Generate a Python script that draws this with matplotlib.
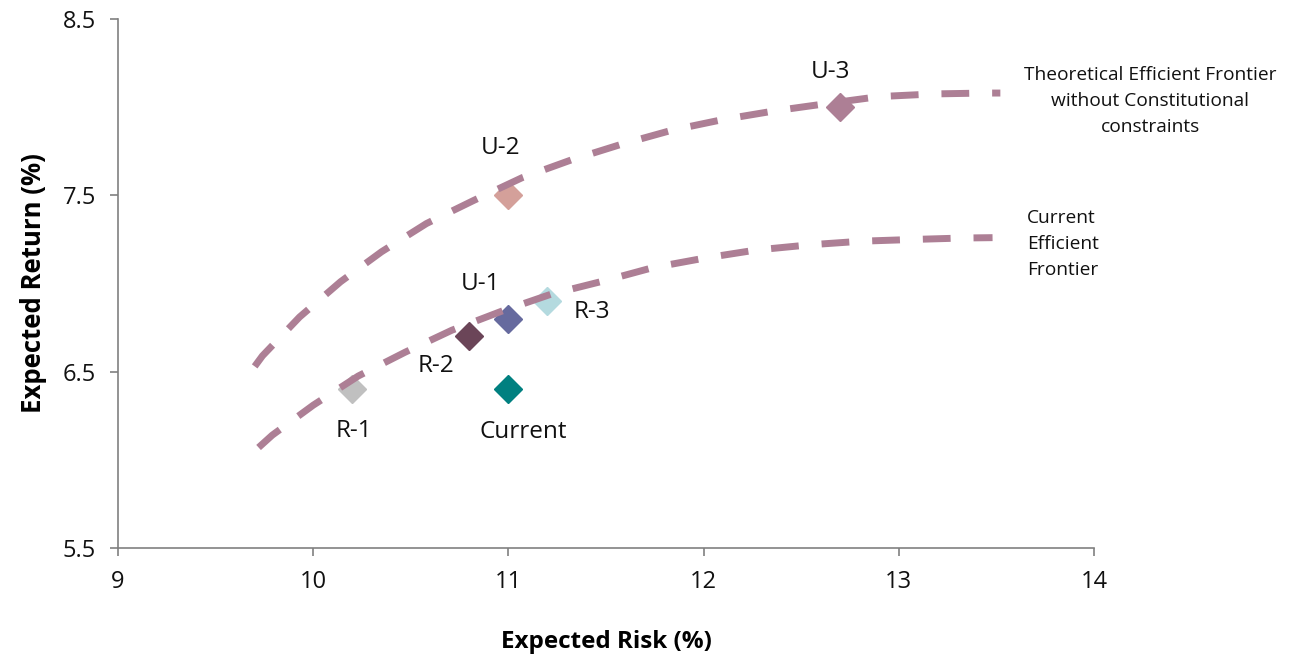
import matplotlib
matplotlib.use("Agg")
import matplotlib.pyplot as plt

plt.rcParams['font.family'] = ['Open Sans', 'DejaVu Sans']

# Portfolio points: (expected risk %, expected return %)
labels = ['U-3', 'U-2', 'U-1', 'R-3', 'R-2', 'R-1', 'Current']
risk = [12.7, 11.0, 11.0, 11.2, 10.8, 10.2, 11.0]
ret = [8.0, 7.5, 6.8, 6.9, 6.7, 6.4, 6.4]
colors = ['#AD7F95', '#D4A09A', '#666A9E', '#B4DADF', '#6B4558', '#C0C0C0', '#008080']
label_offsets = [(-7, 25), (-6, 34), (-20, 25), (32, -8), (-24, -21), (1, -30), (11, -31)]

# Frontier without constitutional constraints
theo_risk = [9.70, 9.74, 9.93, 10.14, 10.35, 10.58, 10.82, 11.07, 11.32, 11.58,
             11.84, 12.10, 12.37, 12.63, 12.90, 13.18, 13.44, 13.52]
theo_ret = [6.53, 6.59, 6.81, 7.01, 7.18, 7.34, 7.47, 7.60, 7.70, 7.79,
            7.87, 7.93, 7.98, 8.02, 8.06, 8.075, 8.08, 8.08]

# Current efficient frontier
curr_risk = [9.72, 9.79, 10.00, 10.23, 10.47, 10.71, 10.97, 11.22, 11.49, 11.74,
             12.01, 12.27, 12.55, 12.81, 13.08, 13.33, 13.48]
curr_ret = [6.07, 6.14, 6.31, 6.475, 6.61, 6.735, 6.845, 6.94, 7.015, 7.09,
            7.145, 7.19, 7.22, 7.24, 7.25, 7.258, 7.26]

fig = plt.figure(figsize=(12.9, 6.59), dpi=100)
ax = fig.add_axes([0.0915, 0.1684, 0.7566, 0.8028])

line_color = '#AD7F95'
for xs, ys in [(theo_risk, theo_ret), (curr_risk, curr_ret)]:
    ax.plot(xs, ys, color=line_color, lw=5, dashes=(4, 3.3),
            dash_capstyle='butt', zorder=3)

for lab, x, y, c, off in zip(labels, risk, ret, colors, label_offsets):
    ax.plot(x, y, marker='D', ms=14, color=c, mec=c, ls='none', zorder=2)
    ax.annotate(lab, (x, y), xytext=off, textcoords='offset points',
                ha='center', va='center', fontsize=17.5, color='#111111')

# Curve captions on the right
fig.text(0.8915, 0.8467, 'Theoretical Efficient Frontier\nwithout Constitutional\nconstraints',
         fontsize=13.8, ha='center', va='center', linespacing=1.55, color='#111111')
fig.text(0.7961, 0.6297, 'Current\nEfficient\nFrontier',
         fontsize=13.8, ha='left', va='center', linespacing=1.55, color='#111111')

ax.set_xlim(9, 14)
ax.set_ylim(5.5, 8.5)
ax.set_xticks([9, 10, 11, 12, 13, 14])
ax.set_yticks([5.5, 6.5, 7.5, 8.5])
ax.set_yticklabels(['5.5', '6.5', '7.5', '8.5'])

for side in ['top', 'right']:
    ax.spines[side].set_visible(False)
for side in ['left', 'bottom']:
    ax.spines[side].set_color('#808080')
    ax.spines[side].set_linewidth(1.2)
ax.tick_params(direction='out', length=6, width=1.2, color='#808080',
               labelsize=17, labelcolor='#111111', pad=10)

ax.set_xlabel('Expected Risk (%)', fontsize=17.5, fontweight='bold', labelpad=26)
ax.set_ylabel('Expected Return (%)', fontsize=18.5, fontweight='bold', labelpad=11)

fig.savefig('out.png', dpi=100)
